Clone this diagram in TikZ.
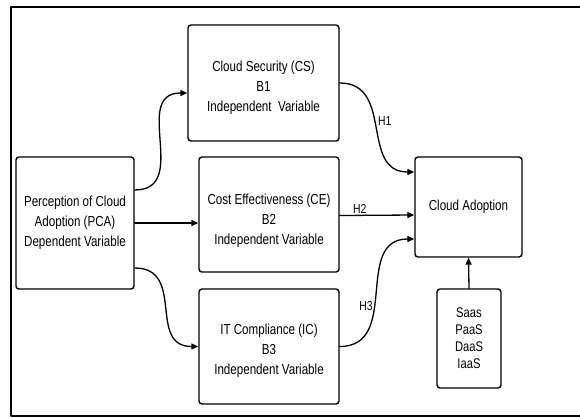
\documentclass[tikz,border=0pt]{standalone}
\usepackage{fontspec}
\setmainfont{Liberation Sans}[FakeStretch=0.8]
\usetikzlibrary{arrows.meta}
\begin{document}
\begin{tikzpicture}[x=1pt,y=-1pt,>={Triangle[length=7pt,width=6pt]}, font=\fontsize{14.5}{20}\selectfont, line join=round, line cap=round,
	varbox/.style={draw,line width=1.4pt,rounded corners=3pt,align=center,inner sep=0pt},
	hyp/.style={font=\fontsize{13}{15}\selectfont,inner sep=2pt},
	link/.style={->,line width=1.3pt}]
	\useasboundingbox (0,0) rectangle (580,417);
	\draw[line width=2pt] (590,7) -- (11,7) -- (11,416) -- (590,416);
	% Biến
	\node[varbox,minimum width=118pt,minimum height=132pt] (pca) at (75,223) {Perception of Cloud\\Adoption (PCA)\\Dependent Variable};
	\node[varbox,minimum width=151pt,minimum height=116pt] (cs) at (263.5,83) {\rule{0pt}{20.5pt}Cloud Security (CS)\\B1\\Independent\ \ Variable};
	\node[varbox,minimum width=140pt,minimum height=115pt] (ce) at (269,214.5) {\rule{0pt}{22.5pt}Cost Effectiveness (CE)\\B2\\Independent Variable};
	\node[varbox,minimum width=140pt,minimum height=115pt] (ic) at (269,346.5) {\rule{0pt}{18.5pt}IT Compliance (IC)\\B3\\Independent Variable};
	\node[varbox,minimum width=107pt,minimum height=100pt] (ca) at (468.5,207) {Cloud Adoption};
	\node[varbox,minimum width=64pt,minimum height=99pt,font=\fontsize{14}{17}\selectfont] (types) at (469,338.5) {Saas\\PaaS\\DaaS\\IaaS};
	% Mũi tên
	\draw[link] ([yshift=33pt]pca.east) to[out=0,in=180,looseness=1.3] ([yshift=-10pt]cs.west);
	\draw[link] (pca.east) -- (pca.east -| ce.west);
	\draw[link] ([yshift=-45pt]pca.east) to[out=0,in=180,looseness=1.3] (ic.west);
	\draw[link] (cs.east) to[out=0,in=180,looseness=1.2] node[hyp,pos=0.45,right]{H1} ([yshift=35pt]ca.west);
	\draw[link] ([yshift=-1pt]ce.east) -- node[hyp,pos=0.27,above=-1pt]{H2} ([yshift=-8pt]ca.west);
	\draw[link] (ic.east) to[out=0,in=180,looseness=1.2] node[hyp,pos=0.42,left]{H3} ([yshift=-32pt]ca.west);
	\draw[link] (types.north) -- (ca.south);
\end{tikzpicture}
\end{document}
